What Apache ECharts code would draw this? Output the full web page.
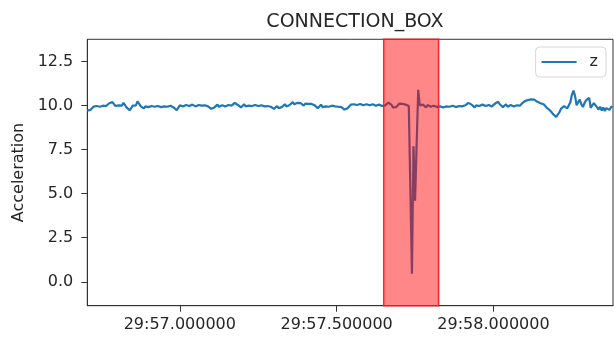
<!DOCTYPE html>
<html>
<head>
<meta charset="utf-8">
<script src="https://cdn.jsdelivr.net/npm/echarts@6/dist/echarts.min.js"></script>
<style>html,body{margin:0;padding:0;background:#fff}#c{width:614px;height:338px}</style>
</head>
<body>
<div id="c"></div>
<script>
const chartTitle = 'CONNECTION_BOX';
const seriesName = 'z';
const yAxisName = 'Acceleration';
const startTime = 56.705;
const sampleStep = 0.005;
const zValues = [
  9.72, 9.80, 9.76, 9.86, 9.95, 9.88, 9.98, 10.06, 9.94, 9.88, 10.00, 10.08, 9.98, 10.06, 10.14, 10.04, 10.20, 10.10, 9.98, 9.92,
  10.02, 10.10, 10.00, 10.16, 10.04, 9.90, 9.80, 9.74, 9.86, 10.00, 10.10, 10.02, 10.24, 10.12, 9.98, 9.88, 9.84, 9.96, 10.04, 9.92,
  9.86, 9.98, 10.06, 9.94, 9.86, 9.98, 10.08, 9.92, 9.84, 9.96, 10.06, 9.94, 9.86, 10.00, 10.08, 9.90, 9.82, 9.74, 9.88, 10.02,
  10.08, 9.96, 9.90, 10.04, 10.10, 9.98, 9.92, 10.06, 10.10, 9.96, 9.90, 10.04, 10.10, 10.00, 9.92, 10.02, 10.08, 9.96, 9.88, 9.82,
  9.80, 9.90, 10.00, 10.06, 9.94, 9.88, 10.02, 10.08, 9.96, 9.90, 10.04, 10.10, 10.00, 10.10, 10.16, 10.12, 10.04, 9.96, 9.90, 10.00,
  10.08, 9.96, 9.88, 10.00, 10.08, 9.98, 9.90, 10.04, 10.10, 9.98, 9.90, 10.02, 10.08, 9.96, 9.88, 9.98, 10.06, 9.94, 9.86, 9.82,
  9.90, 9.98, 9.86, 9.80, 9.92, 10.00, 10.08, 9.96, 9.90, 10.04, 10.12, 10.20, 10.08, 10.02, 10.16, 10.22, 10.14, 10.06, 10.00, 10.12,
  10.20, 10.10, 10.00, 10.10, 10.16, 10.02, 9.94, 9.86, 9.96, 10.06, 9.92, 9.86, 9.96, 10.06, 9.94, 9.88, 10.00, 10.08, 9.96, 9.86,
  9.94, 10.04, 9.92, 9.84, 9.78, 9.74, 9.86, 9.96, 10.06, 9.98, 10.08, 10.14, 10.04, 9.98, 10.10, 10.14, 10.02, 9.96, 10.08, 10.12,
  10.02, 9.96, 10.08, 10.12, 10.00, 9.94, 10.06, 10.10, 9.98, 9.92, 10.02, 10.12, 10.18, 10.22, 10.04, 9.90, 9.84, 9.92, 10.02, 10.12,
  10.18, 10.10, 10.02, 10.06, 10.00, 9.98, 5.20, 0.45, 7.70, 4.60, 7.80, 10.90, 10.02, 9.92, 10.06, 10.00, 9.90, 10.04, 10.10, 9.94,
  9.88, 10.00, 10.06, 9.92, 9.86, 9.96, 10.04, 9.90, 9.84, 9.96, 10.06, 9.94, 9.86, 10.00, 10.06, 9.92, 9.86, 9.98, 10.08, 9.96,
  9.90, 10.02, 10.10, 10.16, 10.20, 10.06, 9.96, 9.90, 10.02, 10.08, 9.98, 9.92, 10.06, 10.10, 9.98, 9.92, 10.04, 10.10, 9.96, 10.06,
  10.12, 10.18, 10.22, 10.08, 9.98, 9.92, 10.02, 10.08, 9.94, 9.90, 10.04, 10.08, 9.96, 9.90, 10.02, 10.08, 10.00, 10.12, 10.20, 10.26,
  10.30, 10.32, 10.35, 10.36, 10.37, 10.34, 10.28, 10.22, 10.16, 10.14, 10.10, 10.08, 9.98, 9.88, 9.80, 9.74, 9.64, 9.52, 9.42, 9.36,
  9.46, 9.62, 9.82, 9.92, 9.98, 9.94, 9.84, 9.76, 10.20, 10.62, 10.86, 10.56, 10.02, 10.20, 10.34, 10.08, 9.92, 10.14, 10.30, 10.40,
  10.44, 9.88, 10.02, 10.14, 10.18, 9.92, 9.78, 9.94, 9.72, 9.90, 9.70, 9.86, 9.96, 9.76, 9.92, 9.96
];
const xTickValues = [57.0, 57.5, 58.0];
const xTickLabels = ['29:57.000000', '29:57.500000', '29:58.000000'];
const yTickValues = [0, 2.5, 5, 7.5, 10, 12.5];
const yTickLabels = ['0.0', '2.5', '5.0', '7.5', '10.0', '12.5'];
const highlightSpan = [57.65, 57.825];
const xRange = [56.705, 58.381];
const yRange = [-1.36, 13.77];

const lineData = zValues.map((v, i) => [startTime + i * sampleStep, v]);
const axisColor = '#333';
const textColor = '#262626';
const font = 'DejaVu Sans';

const chart = echarts.init(document.getElementById('c'), null, { renderer: 'canvas' });
chart.setOption({
  animation: false,
  backgroundColor: '#fff',
  title: {
    text: chartTitle,
    left: 350,
    top: 8,
    textAlign: 'center',
    textStyle: { fontFamily: font, fontSize: 19, fontWeight: 'normal', color: textColor }
  },
  legend: {
    data: [{ name: seriesName, icon: 'rect' }],
    right: 8,
    top: 47,
    orient: 'vertical',
    backgroundColor: '#fff',
    borderColor: '#d8d8d8',
    borderWidth: 1,
    borderRadius: 4,
    padding: [7, 8, 7, 6],
    itemWidth: 35,
    itemHeight: 2,
    textStyle: { fontFamily: font, fontSize: 16, lineHeight: 16, color: textColor, padding: [0, 0, 0, 8] }
  },
  grid: {
    left: 87.3, right: 1, top: 39.3, bottom: 32.3,
    show: true, borderColor: axisColor, borderWidth: 1, backgroundColor: 'transparent'
  },
  xAxis: {
    type: 'value',
    min: xRange[0], max: xRange[1],
    splitLine: { show: false },
    axisLine: { show: true, onZero: false, lineStyle: { color: axisColor, width: 1 } },
    axisTick: { show: true, length: 6, lineStyle: { color: axisColor }, customValues: xTickValues },
    axisLabel: {
      customValues: xTickValues,
      margin: 11,
      fontFamily: font, fontSize: 16, color: textColor,
      formatter: v => xTickLabels[xTickValues.findIndex(t => Math.abs(t - v) < 1e-6)] || ''
    }
  },
  yAxis: {
    type: 'value',
    min: yRange[0], max: yRange[1],
    name: yAxisName,
    nameLocation: 'middle',
    nameGap: 52,
    nameTextStyle: { fontFamily: font, fontSize: 16, color: textColor },
    splitLine: { show: false },
    axisLine: { show: true, onZero: false, lineStyle: { color: axisColor, width: 1 } },
    axisTick: { show: true, length: 6, lineStyle: { color: axisColor }, customValues: yTickValues },
    axisLabel: {
      customValues: yTickValues,
      margin: 14,
      fontFamily: font, fontSize: 16, color: textColor,
      formatter: v => yTickLabels[yTickValues.findIndex(t => Math.abs(t - v) < 1e-6)] || ''
    }
  },
  series: [
    {
      name: seriesName,
      type: 'line',
      data: lineData,
      symbol: 'none',
      sampling: 'none',
      lineStyle: { color: '#1f77b4', width: 2.2 },
      itemStyle: { color: '#1f77b4' },
      z: 2
    },
    {
      name: 'span',
      type: 'line',
      data: [],
      z: 5,
      markArea: {
        silent: true,
        z: 10,
        itemStyle: { color: 'rgba(255,0,0,0.47)', borderColor: 'rgba(255,20,20,0.9)', borderWidth: 1.5 },
        data: [[{ xAxis: highlightSpan[0] }, { xAxis: highlightSpan[1] }]]
      }
    }
  ]
});
</script>
</body>
</html>
